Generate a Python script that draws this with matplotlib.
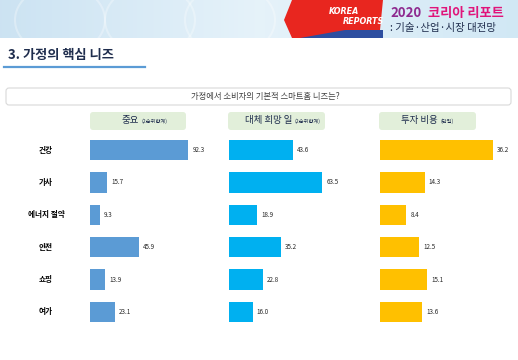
import numpy as np
import matplotlib.pyplot as plt
from matplotlib.patches import FancyBboxPatch, Ellipse, Polygon

plt.rcParams['font.family'] = ['Noto Sans CJK KR', 'DejaVu Sans']

# data
categories = ['건강', '가사', '에너지 절약', '안전', '쇼핑', '여가']
importance = [92.3, 15.7, 9.3, 45.9, 13.9, 23.1]
replace_wish = [43.6, 63.5, 18.9, 35.2, 22.8, 16.0]
invest_cost = [36.2, 14.3, 8.4, 12.5, 15.1, 13.6]

W, H = 518, 360
fig = plt.figure(figsize=(W / 100, H / 100), dpi=100)
fig.patch.set_facecolor('white')

bg = fig.add_axes([0, 0, 1, 1])
bg.set_xlim(0, W)
bg.set_ylim(H, 0)
bg.axis('off')

# banner
grad = np.linspace(0, 1, 256)
c1 = np.array([0.80, 0.89, 0.95])
c2 = np.array([0.90, 0.95, 0.98])
c3 = np.array([0.82, 0.91, 0.96])
img = np.zeros((1, 256, 3))
for i, g in enumerate(grad):
    if g < 0.5:
        img[0, i] = c1 + (c2 - c1) * g * 2
    else:
        img[0, i] = c2 + (c3 - c2) * (g - 0.5) * 2
bg.imshow(img, extent=[0, W, 38, 0], aspect='auto', zorder=0)
for xc in [60, 150, 230]:
    bg.add_patch(Ellipse((xc, 20), 90, 70, fill=False, ec='white', lw=1.5, alpha=0.3, zorder=1))
bg.add_patch(Polygon([[292, 0], [383, 0], [380, 30], [340, 38], [292, 38], [284, 20]],
                     closed=True, fc='#e8261f', ec='none', zorder=2))
bg.add_patch(Polygon([[300, 38], [345, 30], [383, 30], [383, 38]],
                     closed=True, fc='#2d4ea0', ec='none', zorder=3))
bg.text(329, 12, 'KOREA', color='white', fontsize=5.8, fontweight='bold', style='italic',
        ha='left', va='center', family='DejaVu Sans', zorder=4)
bg.text(343, 22, 'REPORTS', color='white', fontsize=5.8, fontweight='bold', style='italic',
        ha='left', va='center', family='DejaVu Sans', zorder=4)
bg.text(390, 13, '2020', color='#8e2a8f', fontsize=9.5, fontweight='bold',
        ha='left', va='center', zorder=4)
bg.text(428, 13, '코리아 리포트', color='#e0157a', fontsize=9.5, fontweight='bold',
        ha='left', va='center', zorder=4)
bg.text(390, 28, ': 기술·산업·시장 대전망', color='#1f2d4d', fontsize=7.5,
        ha='left', va='center', zorder=4)

# section title
bg.text(8, 55, '3. 가정의 핵심 니즈', color='#1f2d4d', fontsize=9.5, fontweight='bold',
        ha='left', va='center')
bg.plot([4, 145], [67, 67], color='#5b9bd5', lw=1.6)

# question box
bg.add_patch(FancyBboxPatch((6, 88), 505, 17, boxstyle='round,pad=0,rounding_size=3',
                            fc='white', ec='#d9d9d9', lw=0.8))
bg.text(265, 97, '가정에서 소비자의 기본적 스마트홈 니즈는?', color='#404040', fontsize=6,
        ha='center', va='center')

# column headers
headers = [('중요', '(2순위합계)', 90, 186), ('대체 희망 일', '(2순위합계)', 228, 325),
           ('투자 비용', '(단일)', 379, 476)]
for main, sub, x0, x1 in headers:
    bg.add_patch(FancyBboxPatch((x0, 112), x1 - x0, 18, boxstyle='round,pad=0,rounding_size=3',
                                fc='#e2efda', ec='none'))
    t = bg.text((x0 + x1) / 2 - 8, 121, main, color='#1f2d4d', fontsize=6.8,
                ha='center', va='center')
    bg.annotate(sub, xy=(1, 0.5), xycoords=t, xytext=(2, 0), textcoords='offset points',
                fontsize=3.8, color='#1f2d4d', ha='left', va='center')

# category labels
y_top, y_bot = 134, 328
step = (y_bot - y_top) / len(categories)
for i, c in enumerate(categories):
    bg.text(46, y_top + step * (i + 0.5), c, fontsize=5.5, fontweight='bold',
            ha='center', va='center', color='black')


def px_axes(x0, x1):
    return fig.add_axes([x0 / W, 1 - y_bot / H, (x1 - x0) / W, (y_bot - y_top) / H])


panels = [(importance, '#5b9bd5', 90, 100, 1.067),
          (replace_wish, '#00b0f0', 229, 70, 1.47),
          (invest_cost, '#ffc000', 380, 40, 3.12)]
for vals, col, x0, xmax, scale in panels:
    ax = px_axes(x0, x0 + xmax * scale)
    ax.barh(np.arange(len(vals)), vals, height=0.62, color=col)
    ax.set_xlim(0, xmax)
    ax.set_ylim(len(vals) - 0.5, -0.5)
    ax.axis('off')
    for i, v in enumerate(vals):
        ax.annotate(f'{v:.1f}', xy=(v, i), xytext=(3, 0), textcoords='offset points',
                    fontsize=4.5, color='#262626', ha='left', va='center')

fig.savefig('out.png', dpi=100)
